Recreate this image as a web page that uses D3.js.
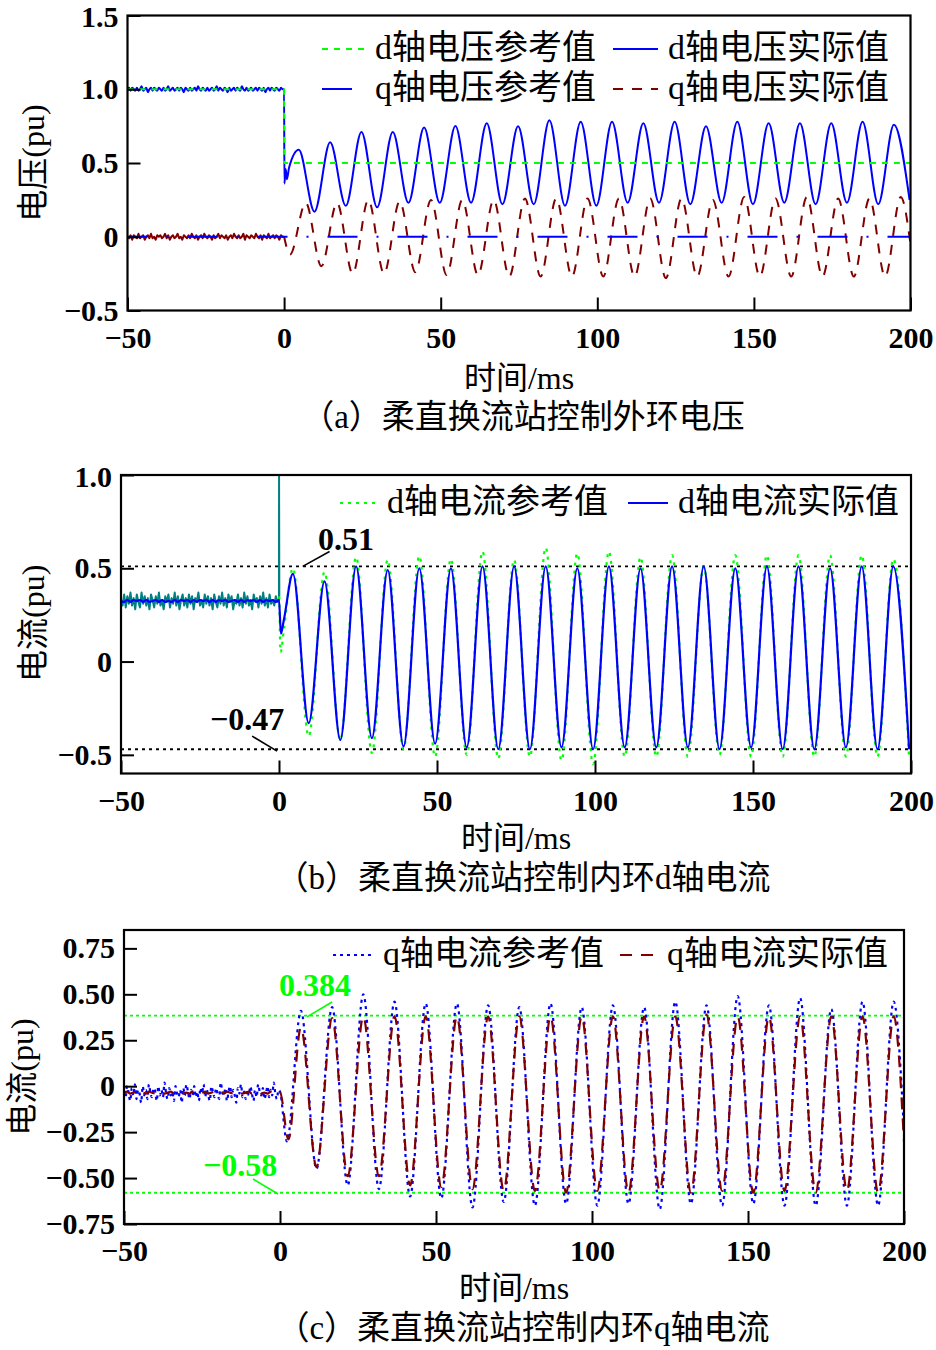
<!DOCTYPE html>
<html><head><meta charset="utf-8">
<script src="https://cdn.jsdelivr.net/npm/d3@7"></script>
<style>
body{margin:0;background:#fff}
svg{display:block}
text{font-family:"Liberation Serif","Times New Roman","Noto Sans CJK SC",serif;fill:#000}
</style>
</head><body>
<svg id="chart" width="936" height="1350"></svg>
<script>
// ---------------- shared axis data ----------------
const xDomain = [-50, 200];
const xTicks = [-50, 0, 50, 100, 150, 200];
const xTickLabels = ["−50", "0", "50", "100", "150", "200"];
const xTitle = "时间/ms";

// ---------------- panel (a): voltage ----------------
const yTicksA = [1.5, 1.0, 0.5, 0, -0.5];
const yTickLabelsA = ["1.5", "1.0", "0.5", "0", "−0.5"];
const legendA = ["d轴电压参考值", "d轴电压实际值", "q轴电压参考值", "q轴电压实际值"];
// d-axis voltage reference (step 1.0 -> 0.5 at t=0)
const udRef = [[-50, 1.0], [0, 1.0], [0.05, 0.5], [200, 0.5]];
// q-axis voltage reference
const uqRef = [[-50, 0], [200, 0]];
// d-axis voltage actual, pre-fault samples (-50..0 ms)
const udActPre = [1.00,1.01,0.99,1.01,1.00,0.99,1.01,0.99,1.00,1.02,0.99,1.00,1.01,0.98,1.00,1.01,0.99,1.01,1.00,0.99,
1.01,1.00,0.99,1.01,0.99,1.00,1.02,0.99,1.00,1.01,0.99,1.00,1.01,0.99,1.01,1.00,0.98,1.01,1.00,0.99,
1.01,0.99,1.00,1.01,0.99,1.02,1.00,0.99,1.01,1.00,0.99,1.01,0.99,1.00,1.01,0.99,1.00,1.02,0.99,1.01,
1.00,0.99,1.01,1.00,0.98,1.01,0.99,1.00,1.01,0.99,1.01,1.00,0.99,1.02,1.00,0.99,1.01,0.99,1.00,1.01,
0.99,1.00,1.01,0.99,1.01,1.00,0.99,1.01,0.98,1.00,1.01,0.99,1.01,1.00,0.99,1.01,1.00,0.99,1.01,1.00,1.00];
const udActStart = [[0.1, 0.36], [0.5, 0.46], [0.9, 0.39], [1.6, 0.47]];
const udActWaveT0 = 4.7; // first extreme (ms), extremes every 5 ms
const udActWave = [0.59,0.17, 0.64,0.21, 0.71,0.20, 0.71,0.23, 0.74,0.23, 0.75,0.23, 0.77,0.22, 0.75,0.22, 0.79,0.21, 0.78,0.21,
0.78,0.23, 0.77,0.23, 0.78,0.22, 0.75,0.23, 0.78,0.22, 0.77,0.23, 0.77,0.22, 0.77,0.23, 0.78,0.22, 0.76,0.25];
// q-axis voltage actual
const uqActPre = [0.00,-0.01,0.01,-0.02,0.01,0.00,-0.01,0.02,-0.01,0.00,0.01,-0.02,0.00,0.01,-0.01,0.02,-0.01,0.00,-0.02,0.01,
0.00,0.01,-0.01,0.00,0.02,-0.01,0.01,-0.02,0.00,0.01,-0.01,0.00,0.02,-0.01,0.00,-0.02,0.01,0.00,-0.01,0.01,
-0.01,0.02,0.00,-0.01,0.01,-0.02,0.00,0.01,-0.01,0.02,0.00,-0.01,0.01,0.00,-0.02,0.01,-0.01,0.00,0.02,-0.01,
0.01,0.00,-0.01,0.01,-0.02,0.00,0.01,-0.01,0.02,0.00,-0.01,0.01,-0.01,0.00,0.02,-0.02,0.01,0.00,-0.01,0.01,
0.00,-0.01,0.02,0.00,-0.01,0.01,-0.02,0.01,0.00,-0.01,0.02,-0.01,0.00,0.01,-0.01,0.01,0.00,-0.02,0.01,0.00,0.00];
const uqActWaveT0 = 1.9;
const uqActWave = [-0.12,0.23, -0.20,0.23, -0.25,0.25, -0.25,0.24, -0.24,0.25, -0.26,0.25, -0.26,0.25, -0.27,0.26, -0.27,0.26, -0.27,0.26,
-0.27,0.26, -0.27,0.26, -0.28,0.26, -0.27,0.25, -0.27,0.27, -0.27,0.26, -0.27,0.27, -0.27,0.26, -0.27,0.26, -0.27,0.27];
const uqActEnd = [[200, -0.05]];

// ---------------- panel (b): d-axis current ----------------
const yTicksB = [1.0, 0.5, 0, -0.5];
const yTickLabelsB = ["1.0", "0.5", "0", "−0.5"];
const legendB = ["d轴电流参考值", "d轴电流实际值"];
const idRefPre = [0.33,0.30,0.36,0.29,0.35,0.31,0.37,0.30,0.34,0.28,0.36,0.32,0.29,0.37,0.31,0.35,0.30,0.34,0.28,0.36,
0.33,0.29,0.35,0.31,0.37,0.30,0.33,0.28,0.35,0.32,0.36,0.29,0.34,0.31,0.37,0.30,0.35,0.28,0.33,0.36,
0.30,0.34,0.29,0.36,0.31,0.35,0.28,0.34,0.32,0.37,0.30,0.33,0.29,0.36,0.31,0.35,0.30,0.34,0.28,0.36,
0.32,0.29,0.35,0.31,0.37,0.30,0.34,0.29,0.36,0.32,0.35,0.28,0.33,0.31,0.36,0.30,0.34,0.29,0.37,0.31,
0.35,0.30,0.33,0.28,0.36,0.32,0.34,0.29,0.35,0.31,0.37,0.30,0.34,0.29,0.36,0.31,0.33,0.30,0.35,0.32,0.33];
const idRefSpike = [[0.02, 1.0], [0.1, 0.35]];
const idRefStart = [[0.1, 0.35], [0.5, 0.05], [1.6, 0.18]];
const idWaveT0 = 4.4;
const idRefWave = [0.50,-0.40, 0.48,-0.42, 0.56,-0.49, 0.545,-0.47, 0.566,-0.51, 0.55,-0.50, 0.59,-0.52, 0.545,-0.51, 0.61,-0.53, 0.58,-0.55,
0.59,-0.51, 0.56,-0.51, 0.57,-0.51, 0.51,-0.50, 0.57,-0.51, 0.57,-0.51, 0.57,-0.51, 0.57,-0.51, 0.57,-0.51, 0.55,-0.52];
const idActPre = [0.325,0.32,0.33,0.32,0.33,0.325,0.33,0.32,0.33,0.32,0.325,0.33,0.32,0.33,0.32,0.325,0.32,0.33,0.32,0.33,
0.325,0.33,0.32,0.33,0.32,0.33,0.325,0.33,0.32,0.33,0.32,0.33,0.325,0.33,0.32,0.325,0.33,0.32,0.33,0.32,
0.33,0.325,0.33,0.32,0.33,0.32,0.33,0.325,0.33,0.32,0.33];
const idActStart = [[0.6, 0.15], [1.5, 0.22]];
const idActWave = [0.47,-0.33, 0.43,-0.42, 0.51,-0.41, 0.49,-0.455, 0.50,-0.44, 0.50,-0.46, 0.51,-0.47, 0.51,-0.47, 0.51,-0.46, 0.50,-0.47,
0.51,-0.46, 0.50,-0.46, 0.51,-0.46, 0.51,-0.47, 0.50,-0.46, 0.51,-0.47, 0.51,-0.47, 0.50,-0.46, 0.51,-0.47, 0.51,-0.47];
const annotB = [
  {label: "0.51", level: 0.51, from: [7.5, 0.51], to: [16, 0.59], at: [21.2, 0.657]},
  {label: "−0.47", level: -0.47, from: [-8.5, -0.40], to: [-0.6, -0.48], at: [-10.1, -0.31]}
];

// ---------------- panel (c): q-axis current ----------------
const yTicksC = [0.75, 0.5, 0.25, 0, -0.25, -0.5, -0.75];
const yTickLabelsC = ["0.75", "0.50", "0.25", "0", "−0.25", "−0.50", "−0.75"];
const legendC = ["q轴电流参考值", "q轴电流实际值"];
const iqRefPre = [-0.03,-0.06,0.00,-0.04,-0.08,-0.01,-0.05,0.01,-0.07,-0.02,-0.04,-0.09,0.00,-0.05,-0.02,-0.07,0.01,-0.04,-0.06,-0.01,
-0.03,-0.08,0.00,-0.05,-0.02,-0.06,0.02,-0.04,-0.07,-0.01,-0.05,-0.03,-0.08,0.00,-0.04,-0.06,-0.02,-0.09,-0.01,-0.05,
0.01,-0.03,-0.07,-0.02,-0.05,0.00,-0.06,-0.03,-0.08,-0.01,-0.04,0.01,-0.06,-0.02,-0.05,-0.08,0.00,-0.03,-0.06,-0.01,
-0.04,-0.07,0.02,-0.03,-0.05,-0.01,-0.08,-0.03,0.00,-0.06,-0.02,-0.05,-0.09,-0.01,-0.04,0.01,-0.06,-0.03,-0.07,-0.02,
-0.05,0.00,-0.04,-0.08,-0.02,-0.06,0.01,-0.03,-0.05,-0.01,-0.07,-0.04,0.00,-0.06,-0.02,-0.05,0.02,-0.04,-0.07,-0.02,-0.03];
const iqRefStart = [[2.2, -0.30]];
const iqWaveT0 = 6.7;
const iqRefWave = [0.41,-0.45, 0.43,-0.54, 0.50,-0.56, 0.46,-0.60, 0.45,-0.61, 0.45,-0.66, 0.44,-0.63, 0.43,-0.65, 0.45,-0.64, 0.43,-0.65,
0.44,-0.64, 0.43,-0.67, 0.46,-0.64, 0.44,-0.65, 0.49,-0.64, 0.44,-0.65, 0.48,-0.65, 0.42,-0.65, 0.46,-0.65, 0.46];
const iqRefEnd = [[200, -0.25]];
const iqActPre = [-0.035,-0.03,-0.04,-0.035,-0.03,-0.04,-0.035,-0.04,-0.03,-0.035,-0.04,-0.03,-0.035,-0.04,-0.035,-0.03,-0.04,-0.035,-0.03,-0.04,
-0.035,-0.04,-0.03,-0.035,-0.04,-0.035,-0.03,-0.04,-0.035,-0.03,-0.04,-0.035,-0.04,-0.03,-0.035,-0.04,-0.03,-0.035,-0.04,-0.035,
-0.03,-0.04,-0.035,-0.03,-0.04,-0.035,-0.04,-0.03,-0.035,-0.04,-0.035];
const iqActStart = [[2.7, -0.29]];
const iqActWave = [0.32,-0.44, 0.37,-0.49, 0.38,-0.49, 0.38,-0.54, 0.38,-0.55, 0.38,-0.56, 0.38,-0.57, 0.38,-0.57, 0.38,-0.58, 0.38,-0.57,
0.38,-0.58, 0.38,-0.57, 0.38,-0.58, 0.39,-0.57, 0.38,-0.58, 0.38,-0.57, 0.38,-0.58, 0.38,-0.57, 0.38,-0.58, 0.38];
const iqActEnd = [[200, -0.30]];
const annotC = [
  {label: "0.384", level: 0.384, from: [8.65, 0.377], to: [16.7, 0.458], at: [11.2, 0.553]},
  {label: "−0.58", level: -0.58, from: [-8.65, -0.505], to: [-0.64, -0.587], at: [-12.8, -0.429]}
];

const captions = ["（a）柔直换流站控制外环电压", "（b）柔直换流站控制内环d轴电流", "（c）柔直换流站控制内环q轴电流"];

// ---------------- helpers ----------------
const C_BLUE = "#0000ff", C_GREEN = "#00ff00", C_RED = "#800000", C_TEAL = "#008080";
const pre = vals => vals.map((v, i) => [-50 + i * 50 / (vals.length - 1), v]);
const wave = (t0, vals) => vals.map((v, i) => [t0 + i * 5, v]);
const NUM_FONT = '"Liberation Serif","Times New Roman",serif';

const svg = d3.select("#chart");

function makePanel(cfg) {
  const x = d3.scaleLinear().domain(xDomain).range([cfg.x0, cfg.x1]);
  const y = d3.scaleLinear().domain(cfg.yDomain).range([cfg.yBot, cfg.yTop]);
  const g = svg.append("g");
  const clipId = "clip" + cfg.id;
  svg.append("clipPath").attr("id", clipId).append("rect")
    .attr("x", cfg.x0).attr("y", cfg.yTop).attr("width", cfg.x1 - cfg.x0).attr("height", cfg.yBot - cfg.yTop);
  const plot = g.append("g").attr("clip-path", `url(#${clipId})`);
  // axes
  const ax = g.append("g").attr("transform", `translate(0,${cfg.yBot})`)
    .call(d3.axisBottom(x).tickValues(xTicks).tickFormat((d, i) => xTickLabels[i]).tickSizeInner(-13).tickSizeOuter(0).tickPadding(16));
  const ay = g.append("g").attr("transform", `translate(${cfg.x0},0)`)
    .call(d3.axisLeft(y).tickValues(cfg.yTicks).tickFormat((d, i) => cfg.yTickLabels[i]).tickSizeInner(-13).tickSizeOuter(0).tickPadding(9));
  [ax, ay].forEach(a => {
    a.select(".domain").remove();
    a.selectAll(".tick line").attr("stroke", "#000").attr("stroke-width", 2);
    a.selectAll("text").style("font-family", NUM_FONT).style("font-size", "30px")
      .style("font-weight", "bold").style("fill", "#000");
  });
  // keep top label inside the picture
  ay.selectAll(".tick text").filter(d => d === cfg.yDomain[1]).attr("dy", "0.38em");
  // frame
  g.append("rect").attr("x", cfg.x0).attr("y", cfg.yTop).attr("width", cfg.x1 - cfg.x0).attr("height", cfg.yBot - cfg.yTop)
    .attr("fill", "none").attr("stroke", "#000").attr("stroke-width", 2.2);
  // labels
  svg.append("text").attr("transform", `translate(${cfg.ylabelX},${(cfg.yTop + cfg.yBot) / 2 + cfg.ylabelDy}) rotate(-90)`)
    .attr("text-anchor", "middle").attr("dominant-baseline", "central").attr("font-size", 32).text(cfg.ylabel);
  svg.append("text").attr("x", (cfg.x0 + cfg.x1) / 2).attr("y", cfg.xlabelY)
    .attr("text-anchor", "middle").attr("dominant-baseline", "central").attr("font-size", 32).text(xTitle);
  svg.append("text").attr("x", 523).attr("y", cfg.captionY)
    .attr("text-anchor", "middle").attr("dominant-baseline", "central").attr("font-size", 33).text(cfg.caption);
  return {x, y, g, plot};
}

function drawLine(p, data, style, curve) {
  const line = d3.line().x(d => p.x(d[0])).y(d => p.y(d[1])).curve(curve || d3.curveMonotoneX);
  return p.plot.append("path").attr("d", line(data)).attr("fill", "none")
    .attr("stroke", style.color).attr("stroke-width", style.width || 2)
    .attr("stroke-dasharray", style.dash || null).attr("stroke-dashoffset", style.offset || 0)
    .attr("stroke-linejoin", "round");
}

function legendItem(x1, x2, yy, style, label) {
  svg.append("line").attr("x1", x1).attr("x2", x2).attr("y1", yy).attr("y2", yy)
    .attr("stroke", style.color).attr("stroke-width", style.width || 2).attr("stroke-dasharray", style.dash || null);
  svg.append("text").attr("x", x2 + 10).attr("y", yy - 2).attr("dominant-baseline", "central")
    .attr("font-size", 34).text(label);
}

function annotate(p, a, color, dash) {
  p.plot.append("line").attr("x1", p.x(xDomain[0])).attr("x2", p.x(xDomain[1]))
    .attr("y1", p.y(a.level)).attr("y2", p.y(a.level))
    .attr("stroke", color).attr("stroke-width", 1.8).attr("stroke-dasharray", dash);
  svg.append("line").attr("x1", p.x(a.from[0])).attr("y1", p.y(a.from[1]))
    .attr("x2", p.x(a.to[0])).attr("y2", p.y(a.to[1])).attr("stroke", color).attr("stroke-width", 1.6);
  svg.append("text").attr("x", p.x(a.at[0])).attr("y", p.y(a.at[1]))
    .attr("text-anchor", "middle").attr("dominant-baseline", "central")
    .style("font-family", NUM_FONT).style("font-size", "32px").style("font-weight", "bold")
    .style("fill", color).text(a.label);
}

// ---------------- panel (a) ----------------
const pA = makePanel({id: "a", x0: 127.5, x1: 910.5, yTop: 15.5, yBot: 310.5, yDomain: [-0.5, 1.5],
  yTicks: yTicksA, yTickLabels: yTickLabelsA, ylabel: "电压(pu)", ylabelX: 33, ylabelDy: 0, xlabelY: 378,
  caption: captions[0], captionY: 417});
const stUdRef = {color: C_GREEN, dash: "6,6"};
const stUqRef = {color: C_BLUE, dash: "30,19,2,19", offset: 10};
const stUdAct = {color: C_BLUE};
const stUqAct = {color: C_RED, dash: "10,9"};
drawLine(pA, pre(uqActPre), {color: C_RED}, d3.curveLinear);
drawLine(pA, [[0, uqActPre[uqActPre.length - 1]]].concat(wave(uqActWaveT0, uqActWave), uqActEnd), stUqAct);
drawLine(pA, uqRef, stUqRef, d3.curveLinear);
drawLine(pA, pre(udActPre).concat(udActStart, wave(udActWaveT0, udActWave)), stUdAct);
drawLine(pA, udRef, stUdRef, d3.curveLinear);
legendItem(322, 365, 49, stUdRef, legendA[0]);
legendItem(613, 658, 49, stUdAct, legendA[1]);
legendItem(322, 365, 89, stUqRef, legendA[2]);
legendItem(613, 658, 89, stUqAct, legendA[3]);

// ---------------- panel (b) ----------------
const pB = makePanel({id: "b", x0: 121, x1: 911, yTop: 475, yBot: 773.5, yDomain: [-0.6, 1.0],
  yTicks: yTicksB, yTickLabels: yTickLabelsB, ylabel: "电流(pu)", ylabelX: 33, ylabelDy: -1, xlabelY: 838,
  caption: captions[1], captionY: 878});
annotB.forEach(a => annotate(pB, a, "#000", "3,4"));
const stIdRef = {color: C_GREEN, dash: "3,5", width: 2.2};
const stIdAct = {color: C_BLUE, width: 2.2};
drawLine(pB, pre(idRefPre).concat(idRefSpike), {color: C_TEAL, width: 2}, d3.curveLinear);
drawLine(pB, idRefStart.concat(wave(idWaveT0, idRefWave)), stIdRef);
drawLine(pB, pre(idActPre).concat(idActStart, wave(idWaveT0, idActWave)), stIdAct);
legendItem(340, 377, 503, stIdRef, legendB[0]);
legendItem(628, 668, 503, stIdAct, legendB[1]);

// ---------------- panel (c) ----------------
const pC = makePanel({id: "c", x0: 124, x1: 904, yTop: 930, yBot: 1224, yDomain: [-0.75, 0.85],
  yTicks: yTicksC, yTickLabels: yTickLabelsC, ylabel: "电流(pu)", ylabelX: 22, ylabelDy: 0, xlabelY: 1288,
  caption: captions[2], captionY: 1328});
annotC.forEach(a => annotate(pC, a, C_GREEN, "3,3"));
const stIqRef = {color: C_BLUE, dash: "3,4", width: 2.2};
const stIqAct = {color: C_RED, dash: "12,9", width: 2.2};
drawLine(pC, pre(iqRefPre).concat(iqRefStart, wave(iqWaveT0, iqRefWave), iqRefEnd), stIqRef);
drawLine(pC, pre(iqActPre).concat(iqActStart, wave(iqWaveT0, iqActWave), iqActEnd), stIqAct);
legendItem(333, 373, 955, stIqRef, legendC[0]);
legendItem(620, 657, 955, stIqAct, legendC[1]);
</script>
</body></html>
